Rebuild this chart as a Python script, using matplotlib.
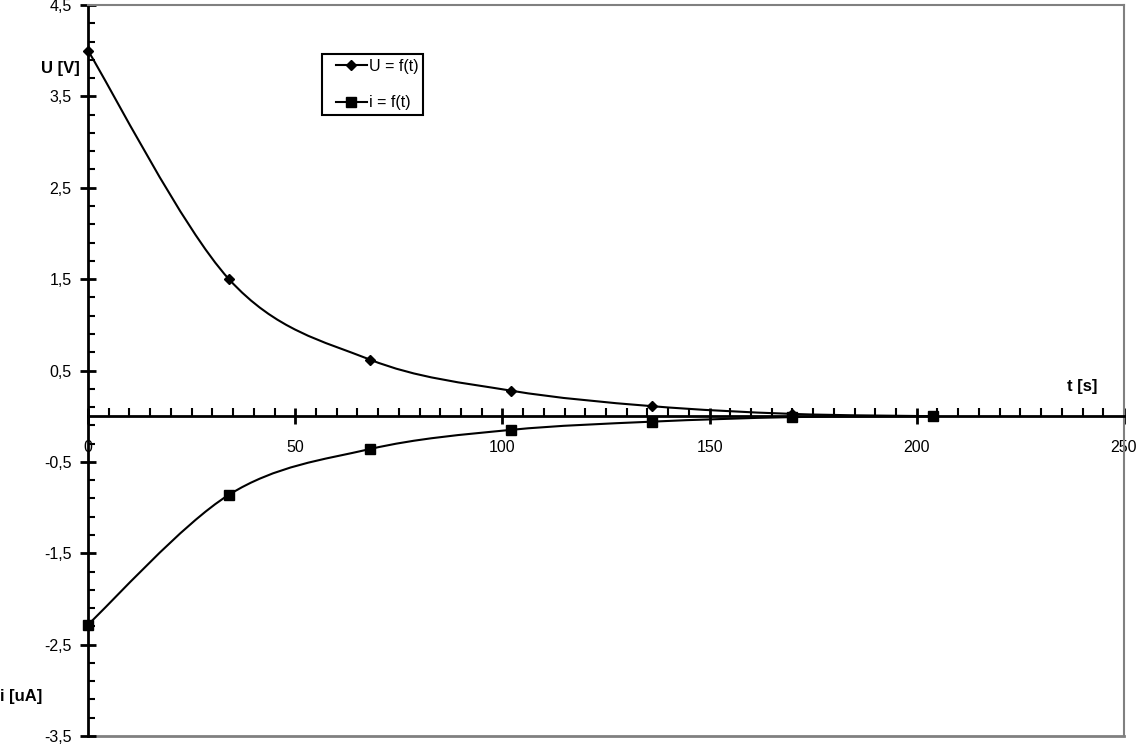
import matplotlib
matplotlib.use("Agg")
import matplotlib.pyplot as plt
from matplotlib.path import Path
from matplotlib.patches import PathPatch
from matplotlib.lines import Line2D
from matplotlib.legend_handler import HandlerLine2D
from matplotlib.ticker import MultipleLocator, FuncFormatter

# Dados
tempo_s = [0, 34, 68, 102, 136, 170, 204]
tensao_U = [4.0, 1.50, 0.62, 0.28, 0.11, 0.025, 0.0]
corrente_i = [-2.28, -0.86, -0.36, -0.15, -0.06, -0.01, 0.0]

plt.rcParams['font.family'] = ['Liberation Sans', 'DejaVu Sans']
plt.rcParams['font.size'] = 11


def curva_suave(x, y):
    """Caminho Bezier ao estilo 'linha suavizada' do Excel (Catmull-Rom)."""
    pts = list(zip(x, y))
    verts = [pts[0]]
    codes = [Path.MOVETO]
    n = len(pts)
    for k in range(n - 1):
        p0 = pts[k - 1] if k > 0 else pts[k]
        p1 = pts[k]
        p2 = pts[k + 1]
        p3 = pts[k + 2] if k + 2 < n else pts[k + 1]
        c1 = (p1[0] + (p2[0] - p0[0]) / 6, p1[1] + (p2[1] - p0[1]) / 6)
        c2 = (p2[0] - (p3[0] - p1[0]) / 6, p2[1] - (p3[1] - p1[1]) / 6)
        verts += [c1, c2, p2]
        codes += [Path.CURVE4] * 3
    return Path(verts, codes)


fig = plt.figure(figsize=(11.39, 7.51), dpi=100)
ax = fig.add_axes([0.0773, 0.02, 0.9095, 0.9733])

# curvas suavizadas + marcadores
for yy in (tensao_U, corrente_i):
    ax.add_patch(PathPatch(curva_suave(tempo_s, yy), facecolor='none',
                           edgecolor='black', linewidth=1.5, zorder=3))
ax.plot(tempo_s, tensao_U, linestyle='none', marker='D', markersize=5.5,
        color='black', zorder=4, clip_on=False)
ax.plot(tempo_s, corrente_i, linestyle='none', marker='s', markersize=6.5,
        color='black', zorder=4, clip_on=False)

ax.set_xlim(0, 250)
ax.set_ylim(-3.5, 4.5)

# eixos
ax.spines['bottom'].set_position(('data', 0))
ax.spines['bottom'].set_linewidth(2)
ax.spines['left'].set_linewidth(2)
ax.spines['top'].set_color('#808080')
ax.spines['right'].set_color('#808080')
ax.spines['top'].set_linewidth(1.5)
ax.spines['right'].set_linewidth(1.5)
ax.axhline(-3.5, color='#808080', linewidth=2, zorder=1, clip_on=False)

ax.xaxis.set_major_locator(MultipleLocator(50))
ax.xaxis.set_minor_locator(MultipleLocator(5))
ax.yaxis.set_major_locator(MultipleLocator(1, offset=0.5))
ax.yaxis.set_minor_locator(MultipleLocator(0.2, offset=0.1))

virgula = FuncFormatter(lambda v, p: ('%g' % v).replace('.', ','))
ax.yaxis.set_major_formatter(virgula)

ax.tick_params(axis='x', which='major', direction='inout', length=11,
               width=2, pad=12, labelsize=11.5)
ax.tick_params(axis='x', which='minor', direction='in', length=6, width=1.5)
ax.tick_params(axis='y', which='major', direction='inout', length=12,
               width=2, pad=6, labelsize=11.5)
ax.tick_params(axis='y', which='minor', direction='in', length=5, width=1.5)

# rótulos
fig.text(0.0527, 0.909, 'U [V]', fontsize=12, fontweight='bold',
         ha='center', va='center')
fig.text(0.0185, 0.072, 'i [uA]', fontsize=12, fontweight='bold',
         ha='center', va='center')
ax.text(240, 0.33, 't [s]', fontsize=12, fontweight='bold',
        ha='center', va='center')

# legenda
h_u = Line2D([], [], color='black', linewidth=1.5, marker='D', markersize=5.5)
h_i = Line2D([], [], color='black', linewidth=1.5, marker='s', markersize=6.5)
leg = ax.legend([h_u, h_i], ['U = f(t)', 'i = f(t)'],
                handler_map={Line2D: HandlerLine2D(xpad=0.55)},
                loc='upper left', bbox_to_anchor=(0.226, 0.933),
                borderaxespad=0, fancybox=False, framealpha=1,
                handlelength=2.5, handletextpad=0.12, fontsize=11.5,
                labelspacing=1.35, borderpad=0.3)
leg.get_frame().set_edgecolor('black')
leg.get_frame().set_linewidth(1.5)

fig.savefig('out.png', dpi=100)
